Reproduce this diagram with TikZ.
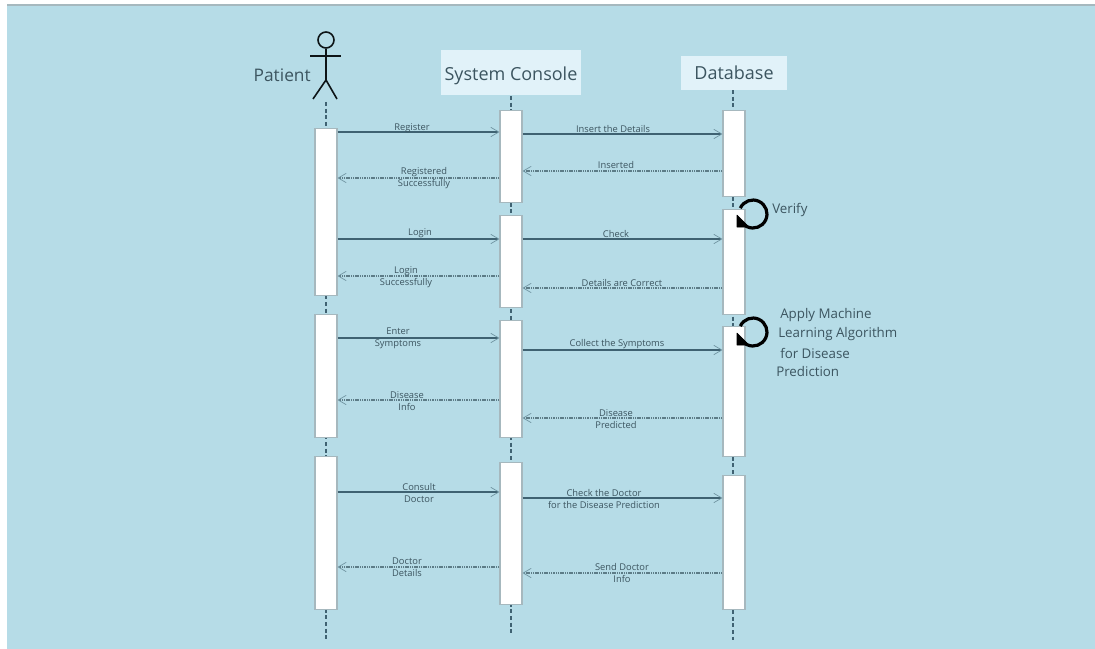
\documentclass[tikz,border=0pt]{standalone}
\usepackage{fontspec}
\setmainfont{Open Sans}
\usetikzlibrary{arrows.meta}
\definecolor{panel}{HTML}{B6DCE7}
\definecolor{headbox}{HTML}{E1F2F9}
\definecolor{boxedge}{HTML}{A6B8BE}
\definecolor{ink}{HTML}{3F6272}
\definecolor{barb}{HTML}{6E929F}
\definecolor{txt}{HTML}{3C5560}
\tikzset{
  x=0.75pt,y=-0.75pt,
  bar/.style={draw=boxedge,fill=white,line width=0.8pt,minimum width=16.5pt,inner sep=0pt,anchor=north},
  life/.style={draw=ink,line width=0.9pt,dash pattern=on 3pt off 2pt},
  msg/.style={draw=ink,line width=0.8pt,-{Straight Barb[length=6pt,width=7pt,line width=0.5pt,color=barb]}},
  ret/.style={msg,draw=barb!85!black,dash pattern=on 1.1pt off .6pt},
  lab/.style={text=txt,font=\fontsize{7pt}{9pt}\selectfont,align=center,inner sep=0pt},
  head/.style={fill=headbox,text=txt,font=\fontsize{13.5pt}{16pt}\selectfont,inner sep=0pt,anchor=center},
  headtext/.style={text=txt,font=\fontsize{13.5pt}{16pt}\selectfont,inner sep=0pt},
  note/.style={text=txt,font=\fontsize{10pt}{12pt}\selectfont,inner sep=0pt,anchor=west},
  stick/.style={draw=black!80!ink,line width=1.2pt},
  loopy/.style={draw=black,line width=2.4pt},
  loophead/.style={fill=black,draw=black,line width=.4pt,line join=round}
}
\begin{document}
\begin{tikzpicture}
\useasboundingbox (0,0) rectangle (1095,649);
\fill[white] (0,0) rectangle (1095,649);
\fill[panel] (7,5) rectangle (1095,649);
\draw[boxedge,line width=0.8pt] (7,5) -- (1095,5);
% lifelines
\coordinate (pt) at (326,102); \coordinate (pb) at (326,640);
\coordinate (st) at (511,96);  \coordinate (sb) at (511,634);
\coordinate (dt) at (733,90);  \coordinate (db) at (733,640);
\draw[life] (pt) -- (pb);
\draw[life] (st) -- (sb);
\draw[life] (dt) -- (db);
% headers
\node[head,minimum width=105pt,minimum height=33.75pt] (hs) at (511,72.5) {};
\node[headtext] (hst) at (511,76) {System Console};
\node[head,minimum width=79.5pt,minimum height=25.5pt] (hd) at (734,73) {Database};
\node[headtext,font=\fontsize{13pt}{16pt}\selectfont,anchor=east] (hp) at (311,75) {Patient};
% actor
\node[stick,circle,minimum size=12pt,inner sep=0pt] (ah) at (326,40) {};
\coordinate (hip) at (326,80);
\coordinate (al) at (310,56); \coordinate (ar) at (341,56);
\coordinate (ll) at (313,99); \coordinate (lr) at (337,99);
\draw[stick] (ah.south) -- (hip);
\draw[stick] (al) -- (ar);
\draw[stick] (ll) -- (hip) -- (lr);
% activation bars
\node[bar,minimum height=125.25pt] (p1) at (326,128) {};
\node[bar,minimum height=92.25pt]  (p2) at (326,314) {};
\node[bar,minimum height=114.75pt] (p3) at (326,456) {};
\node[bar,minimum height=69pt]     (s1) at (511,110) {};
\node[bar,minimum height=69pt]     (s2) at (511,215) {};
\node[bar,minimum height=87.75pt]  (s3) at (511,320) {};
\node[bar,minimum height=106.5pt]  (s4) at (511,462) {};
\node[bar,minimum height=64.5pt]   (d1) at (734,110) {};
\node[bar,minimum height=78.75pt]  (d2) at (734,209) {};
\node[bar,minimum height=97.5pt]   (d3) at (734,326) {};
\node[bar,minimum height=100.5pt]  (d4) at (734,475) {};
% patient <-> system
\draw[msg] (p1.east |- 0,132) -- (s1.west |- 0,132);
\node[lab] (l1) at (412,128.5) {Register};
\draw[ret] (s1.west |- 0,178) -- (p1.east |- 0,178);
\node[lab] (l2) at (424,178.5) {Registered\\Successfully};
\draw[msg] (p1.east |- 0,239) -- (s2.west |- 0,239);
\node[lab] (l3) at (420,233) {Login};
\draw[ret] (s2.west |- 0,276) -- (p1.east |- 0,276);
\node[lab] (l4) at (406,277) {Login\\Successfully};
\draw[msg] (p2.east |- 0,338) -- (s3.west |- 0,338);
\node[lab] (l5) at (398,338.5) {Enter\\Symptoms};
\draw[ret] (s3.west |- 0,400) -- (p2.east |- 0,400);
\node[lab] (l6) at (407,401) {Disease\\Info};
\draw[msg] (p3.east |- 0,492) -- (s4.west |- 0,492);
\node[lab] (l7) at (419,493) {Consult\\Doctor};
\draw[ret] (s4.west |- 0,567) -- (p3.east |- 0,567);
\node[lab] (l8) at (407,567) {Doctor\\Details};
% system <-> database
\draw[msg] (s1.east |- 0,134) -- (d1.west |- 0,134);
\node[lab] (l9) at (613,129.5) {Insert the Details};
\draw[ret] (d1.west |- 0,171) -- (s1.east |- 0,171);
\node[lab] (l10) at (616,165) {Inserted};
\draw[msg] (s2.east |- 0,239) -- (d2.west |- 0,239);
\node[lab] (l11) at (616,233.5) {Check};
\draw[ret] (d2.west |- 0,288) -- (s2.east |- 0,288);
\node[lab] (l12) at (622,283) {Details are Correct};
\draw[msg] (s3.east |- 0,350) -- (d3.west |- 0,350);
\node[lab] (l13) at (617,344.5) {Collect the Symptoms};
\draw[ret] (d3.west |- 0,418) -- (s3.east |- 0,418);
\node[lab] (l14) at (616,419) {Disease\\Predicted};
\draw[msg] (s4.east |- 0,498) -- (d4.west |- 0,498);
\node[lab] (l15) at (604,499) {Check the Doctor\\for the Disease Prediction};
\draw[ret] (d4.west |- 0,573) -- (s4.east |- 0,573);
\node[lab] (l16) at (622,573) {Send Doctor\\Info};
% self loops
\coordinate (v) at (753,214);
\coordinate (a) at (753,332);
\draw[loopy] (v) ++(-12.7,-5.9) arc[start angle=155,end angle=-145,radius=10.5pt];
\draw[loophead] (737,215) -- (737,227) -- (749,227) -- cycle;
\draw[loopy] (a) ++(-12.7,-5.9) arc[start angle=155,end angle=-145,radius=10.5pt];
\draw[loophead] (737,333) -- (737,345) -- (749,345) -- cycle;
\node[note] (nv) at (772,210) {Verify};
\node[note] (n1) at (780,315.5) {Apply Machine};
\node[note] (n2) at (778,334) {Learning Algorithm};
\node[note] (n3) at (780,353) {for Disease};
\node[note] (n4) at (776,371) {Prediction};
\end{tikzpicture}
\end{document}
